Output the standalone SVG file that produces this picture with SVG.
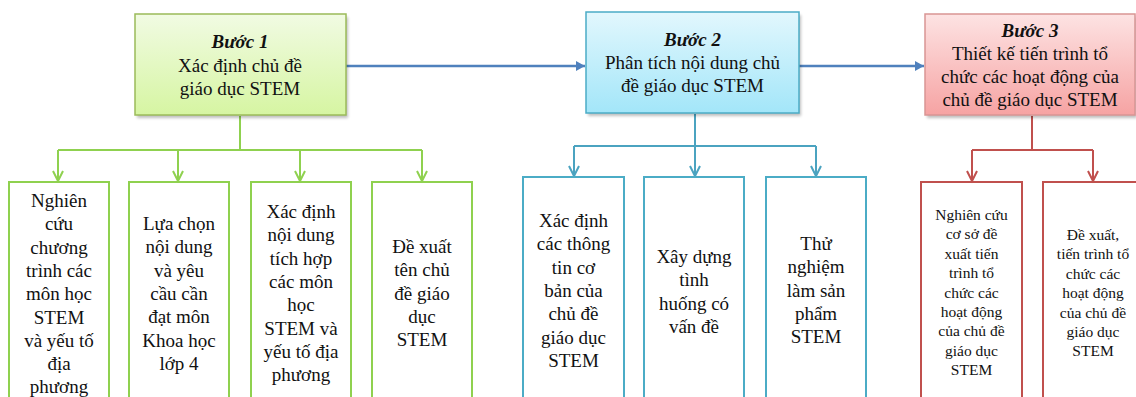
<svg xmlns="http://www.w3.org/2000/svg" width="1136" height="397" viewBox="0 0 1136 397">
<style>
text{font-family:"Liberation Serif","Times New Roman",serif;fill:#111;text-anchor:middle}
.t{font-size:19px}
.s{font-size:15.5px}
.h{font-size:19px;font-weight:bold;font-style:italic}
.g{fill:none;stroke:#8fd14f;stroke-width:2}
.b{fill:none;stroke:#4bacc6;stroke-width:2}
.r{fill:none;stroke:#c0504d;stroke-width:2}
.gl{fill:none;stroke:#8fd14f;stroke-width:2}
.bl{fill:none;stroke:#4ba3c0;stroke-width:2}
.rl{fill:none;stroke:#c0504d;stroke-width:2}
.main{fill:none;stroke:#4f81bd;stroke-width:2.5}
.sh{fill:#000;opacity:0.25;filter:url(#blur)}
</style>
<defs>
<filter id="blur" x="-10%" y="-10%" width="120%" height="120%"><feGaussianBlur stdDeviation="1.5"/></filter>
<linearGradient id="gg" x1="0" y1="0" x2="0" y2="1"><stop offset="0" stop-color="#f1fbe3"/><stop offset="1" stop-color="#d6f5a2"/></linearGradient>
<linearGradient id="gb" x1="0" y1="0" x2="0" y2="1"><stop offset="0" stop-color="#e2f7fd"/><stop offset="1" stop-color="#a3e6f9"/></linearGradient>
<linearGradient id="gr" x1="0" y1="0" x2="0" y2="1"><stop offset="0" stop-color="#fde3e3"/><stop offset="1" stop-color="#f6a3a3"/></linearGradient>
<marker id="ag" markerUnits="userSpaceOnUse" markerWidth="14" markerHeight="14" refX="11" refY="6" orient="auto"><path d="M1,1 L11,6 L1,11" fill="none" stroke="#8fd14f" stroke-width="2"/></marker>
<marker id="ab" markerUnits="userSpaceOnUse" markerWidth="14" markerHeight="14" refX="11" refY="6" orient="auto"><path d="M1,1 L11,6 L1,11" fill="none" stroke="#4ba3c0" stroke-width="2"/></marker>
<marker id="ar" markerUnits="userSpaceOnUse" markerWidth="14" markerHeight="14" refX="11" refY="6" orient="auto"><path d="M1,1 L11,6 L1,11" fill="none" stroke="#c0504d" stroke-width="2"/></marker>
<marker id="am" markerUnits="userSpaceOnUse" markerWidth="12" markerHeight="12" refX="9" refY="5" orient="auto"><path d="M0,0 L9,5 L0,10 Z" fill="#4f81bd"/></marker>
</defs>

<g id="connectors">
<path class="main" d="M346,66 H585" marker-end="url(#am)"/>
<path class="main" d="M799,66 H924" marker-end="url(#am)"/>
<path class="gl" d="M240,116 V150 M58,150 H422"/>
<path class="gl" d="M58,150 V181" marker-end="url(#ag)"/>
<path class="gl" d="M178,150 V181" marker-end="url(#ag)"/>
<path class="gl" d="M300,150 V181" marker-end="url(#ag)"/>
<path class="gl" d="M422,150 V181" marker-end="url(#ag)"/>
<path class="bl" d="M695,114 V146 M574,146 H816"/>
<path class="bl" d="M574,146 V176" marker-end="url(#ab)"/>
<path class="bl" d="M695,146 V176" marker-end="url(#ab)"/>
<path class="bl" d="M816,146 V176" marker-end="url(#ab)"/>
<path class="rl" d="M1032,116 V150 M972,150 H1093"/>
<path class="rl" d="M972,150 V181" marker-end="url(#ar)"/>
<path class="rl" d="M1093,150 V181" marker-end="url(#ar)"/>
</g>

<g id="step1">
<rect class="sh" x="137" y="17" width="211" height="101"/>
<rect x="135" y="14" width="211" height="101" fill="url(#gg)" stroke="#9bbb59" stroke-width="1.5"/>
<text class="h" x="240" y="48">Bước 1</text>
<text class="t" x="240" y="72">Xác định chủ đề</text>
<text class="t" x="240" y="95">giáo dục STEM</text>
</g>

<g id="step2">
<rect class="sh" x="588" y="15" width="213" height="101"/>
<rect x="586" y="12" width="213" height="101" fill="url(#gb)" stroke="#4bacc6" stroke-width="1.5"/>
<text class="h" x="692.5" y="46">Bước 2</text>
<text class="t" x="692.5" y="69">Phân tích nội dung chủ</text>
<text class="t" x="692.5" y="92">đề giáo dục STEM</text>
</g>

<g id="step3">
<rect class="sh" x="927" y="17" width="210" height="101"/>
<rect x="925" y="14" width="210" height="101" fill="url(#gr)" stroke="#d99594" stroke-width="1.5"/>
<text class="h" x="1030" y="37">Bước 3</text>
<text class="t" x="1030" y="60">Thiết kế tiến trình tổ</text>
<text class="t" x="1030" y="83">chức các hoạt động của</text>
<text class="t" x="1030" y="106">chủ đề giáo  dục STEM</text>
</g>

<g id="g1">
<rect class="g" x="9" y="182" width="100" height="230"/>
<text class="t" x="59"><tspan x="59" y="207">Nghiên</tspan><tspan x="59" y="230.3">cứu</tspan><tspan x="59" y="253.6">chương</tspan><tspan x="59" y="276.9">trình các</tspan><tspan x="59" y="300.2">môn học</tspan><tspan x="59" y="323.5">STEM</tspan><tspan x="59" y="346.8">và yếu tố</tspan><tspan x="59" y="370.1">địa</tspan><tspan x="59" y="393.4">phương</tspan></text>
</g>
<g id="g2">
<rect class="g" x="129" y="182" width="100" height="230"/>
<text class="t" x="179"><tspan x="179" y="230">Lựa chọn</tspan><tspan x="179" y="253.3">nội dung</tspan><tspan x="179" y="276.6">và yêu</tspan><tspan x="179" y="299.9">cầu cần</tspan><tspan x="179" y="323.2">đạt môn</tspan><tspan x="179" y="346.5">Khoa học</tspan><tspan x="179" y="369.8">lớp 4</tspan></text>
</g>
<g id="g3">
<rect class="g" x="251" y="182" width="100" height="230"/>
<text class="t" x="301"><tspan x="301" y="218">Xác định</tspan><tspan x="301" y="241.3">nội dung</tspan><tspan x="301" y="264.6">tích hợp</tspan><tspan x="301" y="287.9">các môn</tspan><tspan x="301" y="311.2">học</tspan><tspan x="301" y="334.5">STEM và</tspan><tspan x="301" y="357.8">yếu tố địa</tspan><tspan x="301" y="381.1">phương</tspan></text>
</g>
<g id="g4">
<rect class="g" x="372" y="182" width="100" height="230"/>
<text class="t" x="422"><tspan x="422" y="253">Đề xuất</tspan><tspan x="422" y="276.3">tên chủ</tspan><tspan x="422" y="299.6">đề giáo</tspan><tspan x="422" y="322.9">dục</tspan><tspan x="422" y="346.2">STEM</tspan></text>
</g>

<g id="b1">
<rect class="b" x="523" y="177" width="101" height="235"/>
<text class="t" x="573.5"><tspan x="573.5" y="227">Xác định</tspan><tspan x="573.5" y="250.3">các thông</tspan><tspan x="573.5" y="273.6">tin cơ</tspan><tspan x="573.5" y="296.9">bản của</tspan><tspan x="573.5" y="320.2">chủ đề</tspan><tspan x="573.5" y="343.5">giáo dục</tspan><tspan x="573.5" y="366.8">STEM</tspan></text>
</g>
<g id="b2">
<rect class="b" x="644" y="177" width="100" height="235"/>
<text class="t" x="694"><tspan x="694" y="263">Xây dựng</tspan><tspan x="694" y="286.3">tình</tspan><tspan x="694" y="309.6">huống có</tspan><tspan x="694" y="332.9">vấn đề</tspan></text>
</g>
<g id="b3">
<rect class="b" x="766" y="177" width="100" height="235"/>
<text class="t" x="816"><tspan x="816" y="250">Thử</tspan><tspan x="816" y="273.3">nghiệm</tspan><tspan x="816" y="296.6">làm sản</tspan><tspan x="816" y="319.9">phẩm</tspan><tspan x="816" y="343.2">STEM</tspan></text>
</g>

<g id="r1">
<rect class="r" x="921" y="182" width="101" height="230"/>
<text class="s" x="971.5"><tspan x="971.5" y="220">Nghiên cứu</tspan><tspan x="971.5" y="239.4">cơ sở đề</tspan><tspan x="971.5" y="258.8">xuất tiến</tspan><tspan x="971.5" y="278.2">trình tổ</tspan><tspan x="971.5" y="297.6">chức các</tspan><tspan x="971.5" y="317">hoạt động</tspan><tspan x="971.5" y="336.4">của chủ đề</tspan><tspan x="971.5" y="355.8">giáo dục</tspan><tspan x="971.5" y="375.2">STEM</tspan></text>
</g>
<g id="r2">
<rect class="r" x="1043" y="182" width="120" height="230"/>
<text class="s" x="1093"><tspan x="1093" y="240">Đề xuất,</tspan><tspan x="1093" y="259.4">tiến trình tổ</tspan><tspan x="1093" y="278.8">chức các</tspan><tspan x="1093" y="298.2">hoạt động</tspan><tspan x="1093" y="317.6">của chủ đề</tspan><tspan x="1093" y="337">giáo dục</tspan><tspan x="1093" y="356.4">STEM</tspan></text>
</g>
</svg>
